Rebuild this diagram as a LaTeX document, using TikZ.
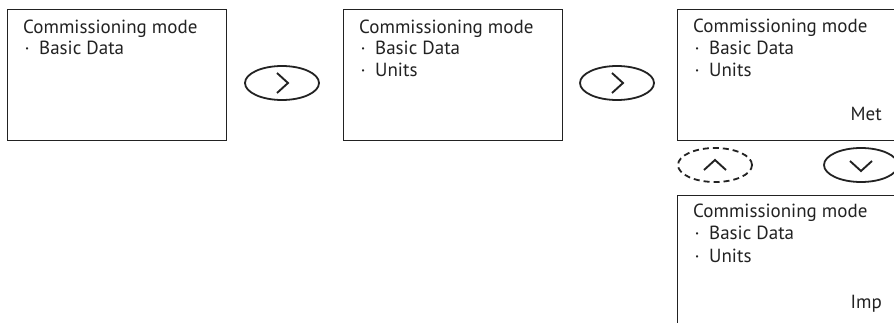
\documentclass[tikz,border=0pt]{standalone}
\usepackage{fontspec}
\setmainfont{PT Sans}
\usetikzlibrary{shapes.geometric}
\definecolor{ink}{HTML}{222222}
\begin{document}
\begin{tikzpicture}[x=1pt,y=-1pt,
  screen/.style={draw=ink, line width=1.3pt, rectangle, minimum width=219pt,
    minimum height=131pt, anchor=north west, inner sep=0pt},
  txt/.style={anchor=base west, inner sep=0pt, text=ink,
    font=\fontsize{19}{22}\selectfont},
  unit/.style={txt, anchor=base east},
  key/.style={draw=ink, line width=1.8pt, ellipse, minimum width=74pt,
    minimum height=34pt, inner sep=0pt},
  chev/.style={draw=ink, line width=1.9pt, line join=miter}
]
\useasboundingbox (0,0) rectangle (894,323);
\clip (0,0) rectangle (894,323);

\newcommand{\bul}[1]{\hspace{1.5pt}\makebox[14.5pt][l]{·}#1}

% display screens
\node[screen] (s1) at (7,9) {};
\node[screen] (s2) at (343,9) {};
\node[screen] (s3) at (677,9) {};
\node[screen] (s4) at (677,195) {};

% screen 1
\node[txt] (s1a) at (23,34) {Commissioning mode};
\node[txt] (s1b) at (23,55) {\bul{Basic Data}};

% screen 2
\node[txt] (s2a) at (359,34) {Commissioning mode};
\node[txt] (s2b) at (359,55) {\bul{Basic Data}};
\node[txt] (s2c) at (359,77) {\bul{Units}};

% screen 3
\node[txt] (s3a) at (693,33) {Commissioning mode};
\node[txt] (s3b) at (693,55) {\bul{Basic Data}};
\node[txt] (s3c) at (693,77) {\bul{Units}};
\node[unit] (s3u) at (882,121) {Met};

% screen 4
\node[txt] (s4a) at (693,218) {Commissioning mode};
\node[txt] (s4b) at (693,240) {\bul{Basic Data}};
\node[txt] (s4c) at (693,262) {\bul{Units}};
\node[unit] (s4u) at (882,308) {Imp};

% keys
\node[key] (k1) at (282,83) {};
\node[key] (k2) at (617,83) {};
\node[key, dash pattern=on 6pt off 4pt] (k3) at (715,165) {};
\node[key] (k4) at (861,165) {};

% key symbols
\draw[chev] ([shift={(-5,-10)}]k1.center) -- ++(11,10) -- ++(-11,10);
\draw[chev] ([shift={(-5,-10)}]k2.center) -- ++(11,10) -- ++(-11,10);
\draw[chev] ([shift={(-11,5)}]k3.center) -- ++(11,-10) -- ++(11,10);
\draw[chev] ([shift={(-11,-4)}]k4.center) -- ++(11,10) -- ++(11,-10);
\end{tikzpicture}
\end{document}
